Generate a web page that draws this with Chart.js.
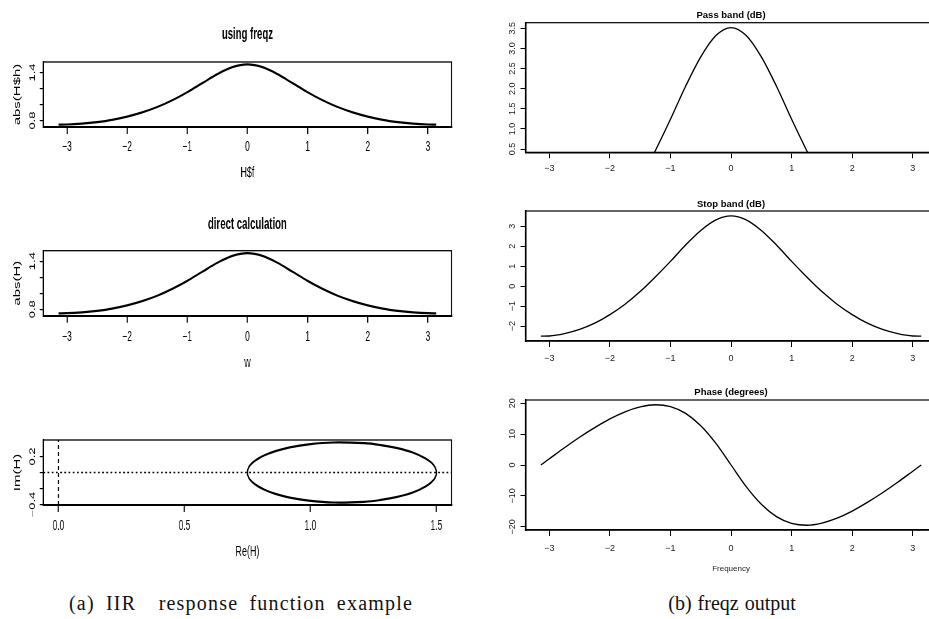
<!DOCTYPE html>
<html>
<head>
<meta charset="utf-8">
<script src="https://cdn.jsdelivr.net/npm/chart.js@4.4.1/dist/chart.umd.min.js"></script>
<style>
html, body { margin: 0; padding: 0; background: #fff; width: 929px; height: 619px; overflow: hidden; position: relative; }
.plot { position: absolute; }
.squeeze { transform: scaleX(0.6); transform-origin: 0 0; }
.caption { position: absolute; font-family: 'Liberation Serif', 'Times New Roman', serif; font-size: 20px; line-height: 1; color: #111; white-space: pre; transform: translate(-50%, -50%); }
</style>
</head>
<body>
<div class="caption" style="left:241px;top:603px;letter-spacing:1.2px;word-spacing:5px">(a) IIR  response function example</div>
<div class="caption" style="left:732px;top:603px;word-spacing:1px">(b) freqz output</div>
<script>
// frequency grid (radians) and the values
const freqW = [-3.14, -3, -2.75, -2.5, -2.25, -2, -1.75, -1.5, -1.25, -1, -0.75, -0.5, -0.25, 0,
  0.25, 0.5, 0.75, 1, 1.25, 1.5, 1.75, 2, 2.25, 2.5, 2.75, 3, 3.14]
const absFreqz = [0.750, 0.751, 0.761, 0.780, 0.808, 0.849, 0.902, 0.969, 1.054, 1.154, 1.267, 1.379, 1.466, 1.500,
  1.466, 1.379, 1.267, 1.154, 1.054, 0.969, 0.902, 0.849, 0.808, 0.780, 0.761, 0.751, 0.750]
const absDirect = [0.750, 0.751, 0.761, 0.780, 0.808, 0.849, 0.902, 0.969, 1.054, 1.154, 1.267, 1.379, 1.466, 1.500,
  1.466, 1.379, 1.267, 1.154, 1.054, 0.969, 0.902, 0.849, 0.808, 0.780, 0.761, 0.751, 0.750]
const gainDb = [-2.50, -2.49, -2.37, -2.16, -1.85, -1.42, -0.90, -0.27, 0.46, 1.24, 2.06, 2.79, 3.32, 3.52,
  3.32, 2.79, 2.06, 1.24, 0.46, -0.27, -0.90, -1.42, -1.85, -2.16, -2.37, -2.49, -2.50]
const phaseDeg = [0, 2.0, 5.6, 9.0, 12.1, 14.9, 17.2, 18.8, 19.5, 18.9, 16.7, 12.7, 7.0, 0,
  -7.0, -12.7, -16.7, -18.9, -19.5, -18.8, -17.2, -14.9, -12.1, -9.0, -5.6, -2.0, 0]

// Nyquist curve Re(H) / Im(H), walked once round
const nyqRe = [0.750, 0.751, 0.757, 0.770, 0.791, 0.820, 0.861, 0.918, 0.993, 1.092, 1.213, 1.279, 1.345, 1.406, 1.455, 1.489, 1.500,
  1.489, 1.455, 1.406, 1.345, 1.279, 1.213, 1.092, 0.993, 0.918, 0.861, 0.820, 0.791, 0.770, 0.757, 0.751, 0.750]
const nyqIm = [0, 0.027, 0.074, 0.121, 0.170, 0.218, 0.267, 0.313, 0.351, 0.374, 0.365, 0.342, 0.304, 0.249, 0.177, 0.093, 0,
  -0.093, -0.177, -0.249, -0.304, -0.342, -0.365, -0.374, -0.351, -0.313, -0.267, -0.218, -0.170, -0.121, -0.074, -0.027, 0]
const refRe = [0]
const refIm = [0]

// ticks and their labels
const wTicks = [-3, -2, -1, 0, 1, 2, 3]
const wLabels = ['\u22123', '\u22122', '\u22121', '0', '1', '2', '3']
const absTicks = [0.8, 1.0, 1.2, 1.4]
const absLabels = ['0.8', '', '', '1.4']
const reTicks = [0, 0.5, 1, 1.5]
const reLabels = ['0.0', '0.5', '1.0', '1.5']
const imTicks = [-0.4, -0.2, 0, 0.2]
const imLabels = ['\u22120.4', '', '', '0.2']
const passTicks = [0.5, 1, 1.5, 2, 2.5, 3, 3.5]
const passLabels = ['0.5', '1.0', '1.5', '2.0', '2.5', '3.0', '3.5']
const stopTicks = [-2, -1, 0, 1, 2, 3]
const stopLabels = ['\u22122', '\u22121', '0', '1', '2', '3']
const phaseTicks = [-20, -10, 0, 10, 20]
const phaseLabels = ['\u221220', '\u221210', '0', '10', '20']

const FONT = "'Liberation Sans', Arial, Helvetica, sans-serif"

const pts = (xs, ys) => xs.map((x, i) => ({ x: x, y: ys[i] }))

// rotated y tick labels, R style
const rLabels = {
  id: 'rLabels',
  afterDraw(chart, args, opts) {
    const ys = chart.scales.y
    const ctx = chart.ctx
    ctx.save()
    ctx.fillStyle = opts.color
    ctx.font = opts.size + 'px ' + FONT
    ctx.textAlign = 'center'
    ctx.textBaseline = 'middle'
    opts.ticks.forEach((v, i) => {
      const lab = opts.labels[i]
      if (!lab) return
      ctx.save()
      ctx.translate(opts.x, ys.getPixelForValue(v))
      ctx.rotate(-Math.PI / 2)
      ctx.fillText(lab, 0, 0)
      ctx.restore()
    })
    ctx.restore()
  }
}

const rBox = {
  id: 'rBox',
  afterDatasetsDraw(chart, args, opts) {
    const a = chart.chartArea
    const ctx = chart.ctx
    ctx.save()
    ctx.strokeStyle = '#000'
    ctx.lineWidth = opts.width
    ctx.strokeRect(a.left, a.top, a.right - a.left, a.bottom - a.top)
    ctx.restore()
  }
}

function rPlot(o) {
  const holder = document.createElement('div')
  holder.className = 'plot' + (o.squeeze ? ' squeeze' : '')
  holder.style.left = o.left + 'px'
  holder.style.top = o.top + 'px'
  holder.style.width = o.width + 'px'
  holder.style.height = o.height + 'px'
  const cv = document.createElement('canvas')
  holder.appendChild(cv)
  document.body.appendChild(holder)

  const tLH = o.titleSize * 1.2
  const kLH = o.tickSize * 1.2
  const aLH = o.axisSize * 1.2
  const padTop = o.title ? o.titleY - o.top - tLH / 2 : o.boxTop - o.top
  const titleGap = o.title ? o.boxTop - o.top - padTop - tLH : 0
  const xH = o.xTitle ? o.xTitleY - o.boxBottom + aLH / 2 : o.xLabelY - o.boxBottom + kLH / 2 + 3
  const padBottom = o.top + o.height - o.boxBottom - xH
  const xTickPad = o.xLabelY - o.boxBottom - o.xTickLen - kLH / 2

  return new Chart(cv, {
    type: 'scatter',
    data: { datasets: o.datasets },
    options: {
      responsive: true,
      maintainAspectRatio: false,
      animation: false,
      events: [],
      layout: { padding: { top: padTop, bottom: padBottom, left: 0, right: o.padRight } },
      plugins: {
        legend: { display: false },
        tooltip: { enabled: false },
        title: o.title ? {
          display: true, text: o.title, color: '#000', fullSize: false,
          font: { family: FONT, size: o.titleSize, weight: 'bold', lineHeight: 1.2 },
          padding: { top: 0, bottom: titleGap }
        } : { display: false },
        rLabels: { ticks: o.yTicks, labels: o.yLabels, x: o.yLabelX, size: o.yTickSize, color: o.textColor },
        rBox: { width: o.boxWidth }
      },
      scales: {
        x: {
          type: 'linear', min: o.xMin, max: o.xMax,
          afterBuildTicks: s => { s.ticks = o.xTicks.map(v => ({ value: v })) },
          afterFit: s => { s.height = xH },
          grid: { drawOnChartArea: false, drawTicks: true, tickLength: o.xTickLen, color: '#000', lineWidth: o.xTickWidth },
          border: { display: true, color: '#000', width: o.axisWidth },
          ticks: {
            padding: xTickPad, color: o.textColor, autoSkip: false, maxRotation: 0,
            font: { family: FONT, size: o.tickSize, lineHeight: 1.2 },
            callback: (v, i) => o.xLabels[i]
          },
          title: o.xTitle ? {
            display: true, text: o.xTitle, color: o.textColor,
            font: { family: FONT, size: o.axisSize, lineHeight: 1.2 },
            padding: { top: 0, bottom: 0 }
          } : { display: false }
        },
        y: {
          type: 'linear', min: o.yMin, max: o.yMax,
          afterBuildTicks: s => { s.ticks = o.yTicks.map(v => ({ value: v })) },
          afterFit: s => { s.width = o.yWidth },
          grid: { drawOnChartArea: false, drawTicks: true, tickLength: o.yTickLen, color: '#000', lineWidth: o.yTickWidth },
          border: { display: true, color: '#000', width: o.axisWidth },
          ticks: { display: false },
          title: o.yTitle ? {
            display: true, text: o.yTitle, color: o.textColor,
            font: { family: FONT, size: o.axisSize, lineHeight: 1.2 },
            padding: { top: o.yTitleX - aLH / 2, bottom: 0 }
          } : { display: false }
        }
      }
    },
    plugins: [rBox, rLabels]
  })
}

const curve = (data, w) => ({
  data: data, showLine: true, borderColor: '#000', borderWidth: w,
  pointRadius: 0, cubicInterpolationMode: 'monotone', fill: false
})

// left column, internal (unsqueezed) horizontal units
const leftBase = {
  squeeze: true, left: 0, width: 783, padRight: 30.5, textColor: '#000',
  titleSize: 16, tickSize: 14, axisSize: 15, yTickSize: 13,
  yWidth: 72.2, yTitleX: 29.2, yLabelX: 54.2,
  xTickLen: 7, yTickLen: 6, xTickWidth: 1.8, yTickWidth: 1.2,
  axisWidth: 2, boxWidth: 1.3
}

rPlot(Object.assign({}, leftBase, {
  top: 0, height: 190, title: 'using freqz', titleY: 35, boxTop: 62, boxBottom: 127,
  xLabelY: 146.7, xTitle: 'H$f', xTitleY: 172.5, yTitle: 'abs(H$h)',
  xMin: -3.393, xMax: 3.393, yMin: 0.72, yMax: 1.53,
  xTicks: wTicks, xLabels: wLabels, yTicks: absTicks, yLabels: absLabels,
  datasets: [curve(pts(freqW, absFreqz), 2.2)]
}))

rPlot(Object.assign({}, leftBase, {
  top: 190, height: 190, title: 'direct calculation', titleY: 224.3, boxTop: 250.7, boxBottom: 315.7,
  xLabelY: 336.7, xTitle: 'w', xTitleY: 363, yTitle: 'abs(H)',
  xMin: -3.393, xMax: 3.393, yMin: 0.72, yMax: 1.53,
  xTicks: wTicks, xLabels: wLabels, yTicks: absTicks, yLabels: absLabels,
  datasets: [curve(pts(freqW, absDirect), 2.2)]
}))

const reMin = -0.06, reMax = 1.56, imMin = -0.405, imMax = 0.405
rPlot(Object.assign({}, leftBase, {
  top: 380, height: 200, title: null, boxTop: 440, boxBottom: 505,
  xLabelY: 525.7, xTitle: 'Re(H)', xTitleY: 552.3, yTitle: 'Im(H)',
  xMin: reMin, xMax: reMax, yMin: imMin, yMax: imMax,
  xTicks: reTicks, xLabels: reLabels, yTicks: imTicks, yLabels: imLabels,
  datasets: [
    { data: pts(nyqRe, nyqIm), showLine: true, borderColor: '#000', borderWidth: 2.2, pointRadius: 0, tension: 0.4, fill: false },
    { data: [{ x: reMin, y: refIm[0] }, { x: reMax, y: refIm[0] }], showLine: true, borderColor: '#000', borderWidth: 1.6, borderDash: [3, 4], pointRadius: 0 },
    { data: [{ x: refRe[0], y: imMin }, { x: refRe[0], y: imMax }], showLine: true, borderColor: '#000', borderWidth: 1.6, borderDash: [4, 3], pointRadius: 0 }
  ]
}))

// right column
const rightBase = {
  squeeze: false, left: 470, width: 470, padRight: 3.4, textColor: '#222',
  titleSize: 9.5, tickSize: 9, axisSize: 8, yTickSize: 9,
  yWidth: 55.5, yTitle: null, yLabelX: 43,
  xTickLen: 6, yTickLen: 5, xTickWidth: 1, yTickWidth: 1,
  axisWidth: 1.5, boxWidth: 1.2,
  xMin: -3.393, xMax: 3.393, xTicks: wTicks, xLabels: wLabels
}

rPlot(Object.assign({}, rightBase, {
  top: 0, height: 190, title: 'Pass band (dB)', titleY: 15.5, boxTop: 22.7, boxBottom: 152.3,
  xLabelY: 168.3, xTitle: null, yMin: 0.42, yMax: 3.64,
  yTicks: passTicks, yLabels: passLabels,
  datasets: [curve(pts(freqW, gainDb), 1.3)]
}))

rPlot(Object.assign({}, rightBase, {
  top: 190, height: 190, title: 'Stop band (dB)', titleY: 204.3, boxTop: 211, boxBottom: 341,
  xLabelY: 358.3, xTitle: null, yMin: -2.74, yMax: 3.76,
  yTicks: stopTicks, yLabels: stopLabels,
  datasets: [curve(pts(freqW, gainDb), 1.3)]
}))

rPlot(Object.assign({}, rightBase, {
  top: 380, height: 210, title: 'Phase (degrees)', titleY: 392.3, boxTop: 400, boxBottom: 530,
  xLabelY: 548.3, xTitle: 'Frequency', xTitleY: 568.3, yMin: -21.03, yMax: 21.03,
  yTicks: phaseTicks, yLabels: phaseLabels,
  datasets: [curve(pts(freqW, phaseDeg), 1.3)]
}))
</script>
</body>
</html>
